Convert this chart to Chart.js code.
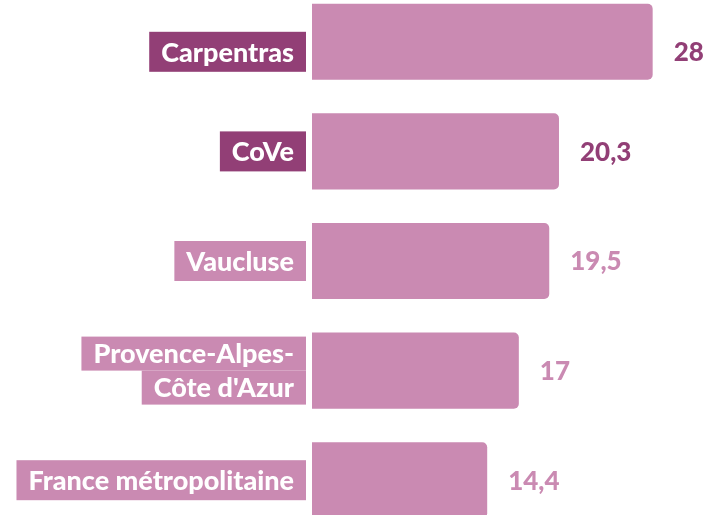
<!DOCTYPE html>
<html>
<head>
<meta charset="utf-8">
<script src="https://cdn.jsdelivr.net/npm/chart.js@4"></script>
<style>
  html,body{margin:0;padding:0;background:#fff;overflow:hidden;width:716px;height:515px;}
  #wrap{position:absolute;left:0;top:-13px;width:716px;height:548px;}
</style>
</head>
<body>
<div id="wrap"><canvas id="c"></canvas></div>
<script>
const categories = [["Carpentras"], ["CoVe"], ["Vaucluse"], ["Provence-Alpes-", "Côte d'Azur"], ["France métropolitaine"]];
const values = [28, 20.3, 19.5, 17, 14.4];
const valueLabels = ["28", "20,3", "19,5", "17", "14,4"];
const highlighted = [true, true, false, false, false];

const DARK = '#923f76';
const PINK = '#ca8ab2';

const labelPlugin = {
  id: 'labelBoxes',
  afterDatasetsDraw(chart) {
    const ctx = chart.ctx;
    const meta = chart.getDatasetMeta(0);
    const rowShift = [10, 0, 0, 0, 0];
    ctx.save();
    meta.data.forEach((bar, i) => {
      const yc = bar.y + rowShift[i];
      const lines = categories[i];
      const lineH = 34;
      const boxRight = 306;
      const padL = 12, padR = 12;
      ctx.font = '900 27px Lato';
      ctx.textBaseline = 'middle';
      ctx.textAlign = 'right';
      const top = yc - (lines.length * lineH) / 2;
      const geo = lines.map((ln, k) => {
        const y0 = lines.length === 1 ? yc - 20 : top + k * lineH;
        const hh = lines.length === 1 ? 40 : lineH;
        return { y0, hh };
      });
      lines.forEach((ln, k) => {
        const w = ctx.measureText(ln).width;
        ctx.fillStyle = highlighted[i] ? DARK : PINK;
        ctx.fillRect(boxRight - w - padL - padR, geo[k].y0, w + padL + padR, geo[k].hh);
      });
      lines.forEach((ln, k) => {
        ctx.fillStyle = '#ffffff';
        ctx.fillText(ln, boxRight - padR, geo[k].y0 + geo[k].hh / 2 + 1);
      });
      ctx.font = '900 26px Lato';
      ctx.textAlign = 'left';
      ctx.fillStyle = highlighted[i] ? DARK : PINK;
      ctx.fillText(valueLabels[i], bar.x + 21, yc + 1);
    });
    ctx.restore();
  }
};

new Chart(document.getElementById('c'), {
  type: 'bar',
  data: {
    labels: categories.map(c => c.join(' ')),
    datasets: [{
      data: values,
      backgroundColor: PINK,
      borderRadius: 5,
      borderSkipped: 'start',
      barPercentage: 0.694,
      categoryPercentage: 1
    }]
  },
  options: {
    indexAxis: 'y',
    responsive: true,
    maintainAspectRatio: false,
    animation: false,
    layout: { padding: { left: 312, right: 39, top: 0, bottom: 0 } },
    plugins: { legend: { display: false }, tooltip: { enabled: false } },
    scales: {
      x: { min: 0, max: 30, display: false },
      y: { display: false }
    }
  },
  plugins: [labelPlugin]
});
</script>
</body>
</html>
